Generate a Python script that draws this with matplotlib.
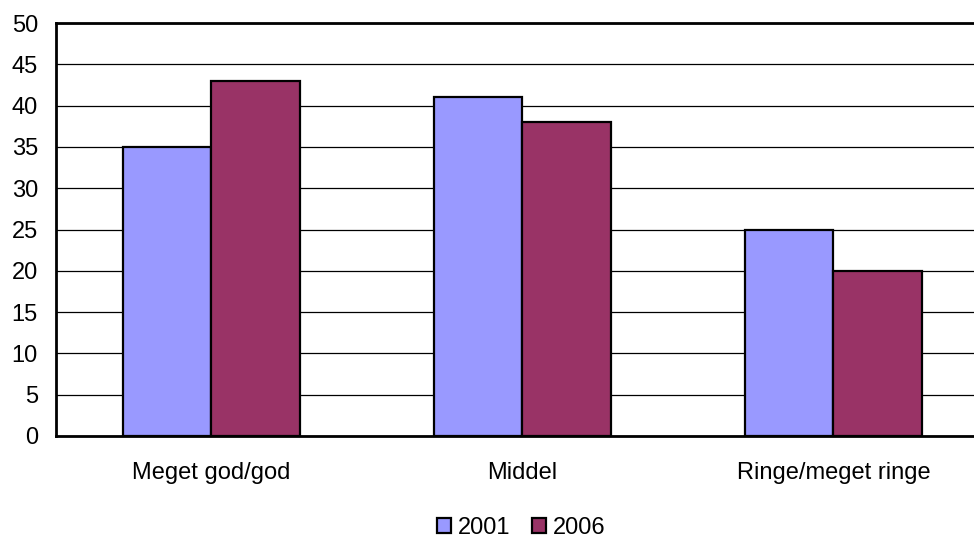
import matplotlib
matplotlib.use("Agg")
import matplotlib.pyplot as plt
from matplotlib.patches import Patch
import numpy as np

plt.rcParams['font.family'] = ['Liberation Sans', 'DejaVu Sans']

categories = ["Meget god/god", "Middel", "Ringe/meget ringe"]
series_names = ["2001", "2006"]
values_2001 = [35, 41, 25]
values_2006 = [43, 38, 20]
colors = ["#9999FF", "#993366"]
y_ticks = [0, 5, 10, 15, 20, 25, 30, 35, 40, 45, 50]

fig = plt.figure(figsize=(9.74, 5.39), dpi=100)
ax = fig.add_axes([56 / 974, 1 - 436 / 539, 933 / 974, 413 / 539])

x = np.arange(len(categories))
w = 0.285
ax.set_axisbelow(True)
ax.yaxis.grid(True, color="black", linewidth=0.9)
ax.bar(x - w / 2, values_2001, width=w, color=colors[0], edgecolor="black", linewidth=1.6, zorder=3)
ax.bar(x + w / 2, values_2006, width=w, color=colors[1], edgecolor="black", linewidth=1.6, zorder=3)

ax.set_xlim(-0.5, 2.5)
ax.set_ylim(0, 50)
ax.set_yticks(y_ticks)
ax.set_xticks(x)
ax.set_xticklabels(categories)
ax.tick_params(axis="both", length=0, labelsize=17)
ax.tick_params(axis="x", pad=19)
ax.tick_params(axis="y", pad=13)
for s in ["left", "bottom", "top"]:
    ax.spines[s].set_linewidth(2)
ax.spines["right"].set_visible(False)

handles = [Patch(facecolor=c, edgecolor="black", linewidth=1.6) for c in colors]
fig.legend(handles, series_names, loc="center", bbox_to_anchor=(521 / 974, 1 - 528 / 539),
           ncol=2, frameon=False, fontsize=17, handlelength=0.6, handleheight=0.6,
           handletextpad=0.3, columnspacing=0.9, borderpad=0)

fig.savefig("out.png", dpi=100)
